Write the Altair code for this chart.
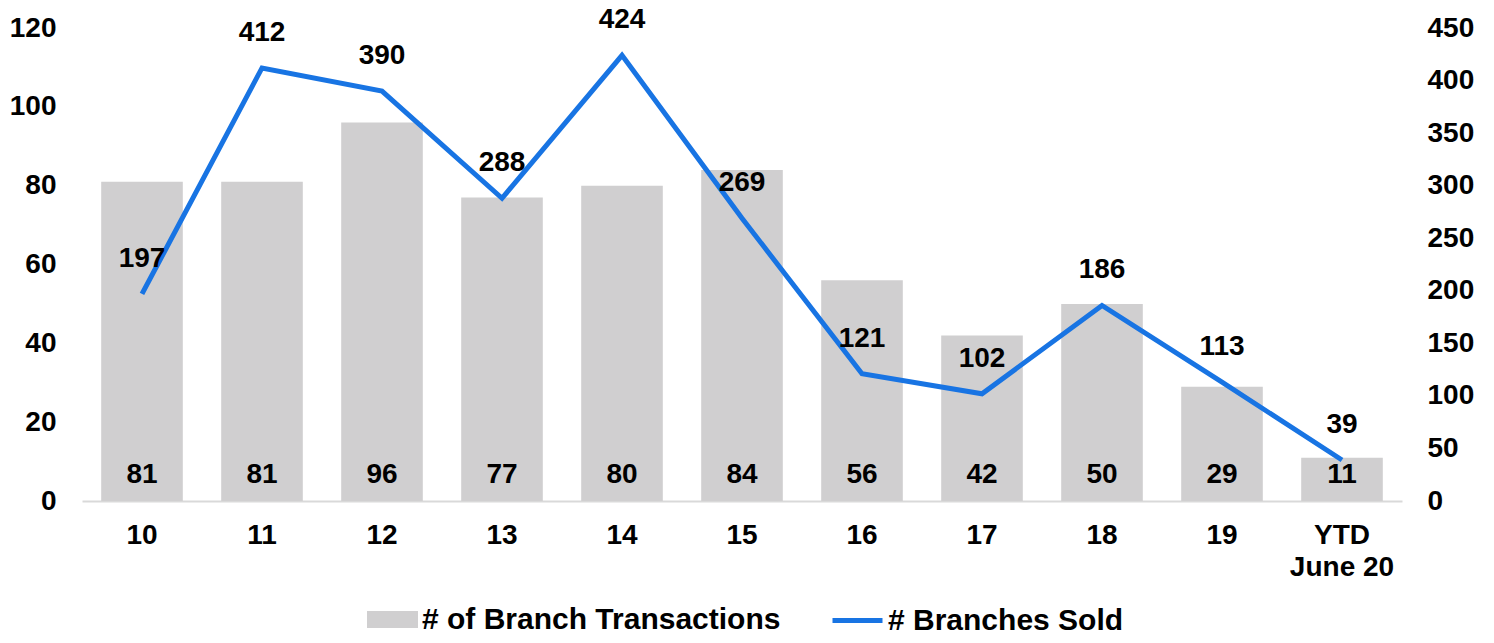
import altair as alt
import pandas as pd

years = ["10", "11", "12", "13", "14", "15", "16", "17", "18", "19", "YTD June 20"]
transactions = [81, 81, 96, 77, 80, 84, 56, 42, 50, 29, 11]
branches_sold = [197, 412, 390, 288, 424, 269, 121, 102, 186, 113, 39]

df = pd.DataFrame({"year": years, "tx": transactions, "sold": branches_sold})

FONT = "Liberation Sans"
FS = 28
LFS = 30
BAR_C = "#d0cfd0"
LINE_C = "#1874e3"

x = alt.X("year:N", sort=years, title=None,
          scale=alt.Scale(paddingInner=0.32, paddingOuter=0.16),
          axis=alt.Axis(labelAngle=0, labelFont=FONT, labelFontSize=FS, labelFontWeight="bold",
                        labelColor="black", ticks=False, domainColor="#d9d9d9", domainWidth=2,
                        labelPadding=20, labelLineHeight=32,
                        labelExpr="datum.value == 'YTD June 20' ? ['YTD', 'June 20'] : datum.label"))

base = alt.Chart(df)

bars = base.mark_bar(color=BAR_C).encode(
    x=x,
    y=alt.Y("tx:Q", title=None, scale=alt.Scale(domain=[0, 120], nice=False),
            axis=alt.Axis(values=[0, 20, 40, 60, 80, 100, 120], labelFont=FONT, labelFontSize=FS,
                          labelFontWeight="bold", labelColor="black", ticks=False, domain=False,
                          grid=False, labelPadding=26)),
    fill=alt.Fill("lbl1:N", scale=alt.Scale(domain=["# of Branch Transactions"], range=[BAR_C]),
                  legend=alt.Legend(title=None, orient="none", legendX=285, legendY=566,
                                    symbolType="M-1,-0.33L1,-0.33L1,0.33L-1,0.33Z", symbolSize=2600,
                                    labelFont=FONT, labelFontSize=LFS, labelFontWeight="bold",
                                    labelColor="black", symbolStrokeWidth=0, labelOffset=4,
                                    labelLimit=600)),
).transform_calculate(lbl1="'# of Branch Transactions'")

bar_text = base.mark_text(font=FONT, fontSize=FS, fontWeight="bold", color="black",
                          baseline="middle", dy=-26).encode(
    x=x, y=alt.datum(0), text="tx:Q")

left = alt.layer(bars, bar_text)

line = base.mark_line(strokeWidth=5).encode(
    x=x,
    y=alt.Y("sold:Q", title=None, scale=alt.Scale(domain=[0, 450], nice=False),
            axis=alt.Axis(values=list(range(0, 451, 50)), labelFont=FONT, labelFontSize=FS,
                          labelFontWeight="bold", labelColor="black", ticks=False, domain=False,
                          grid=False, labelPadding=25, orient="right")),
    stroke=alt.Stroke("lbl2:N", scale=alt.Scale(domain=["# Branches Sold"], range=[LINE_C]),
                      legend=alt.Legend(title=None, orient="none", legendX=748, legendY=565,
                                        symbolType="stroke", symbolSize=2500, symbolStrokeWidth=5,
                                        labelFont=FONT, labelFontSize=LFS, labelFontWeight="bold",
                                        labelColor="black", labelOffset=3, labelLimit=600)),
).transform_calculate(lbl2="'# Branches Sold'")

line_text = base.mark_text(font=FONT, fontSize=FS, fontWeight="bold", color="black",
                           baseline="middle", dy=-35).encode(
    x=x, y=alt.Y("sold:Q", scale=alt.Scale(domain=[0, 450], nice=False)), text="sold:Q")

right = alt.layer(line, line_text)

chart = alt.layer(left, right).resolve_scale(y="independent").properties(
    width=1320, height=473, background="white",
    autosize=alt.AutoSizeParams(type="none"),
    padding={"left": 74, "top": 20, "right": 84, "bottom": 134},
).configure_view(stroke=None)

chart.save("out.html", embed_options={"renderer": "svg", "actions": False})
